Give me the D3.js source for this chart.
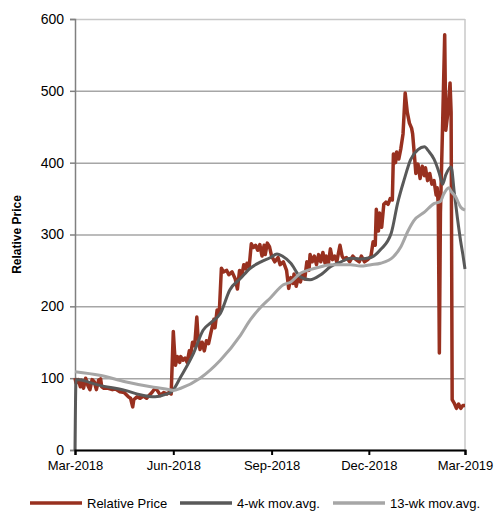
<!DOCTYPE html>
<html>
<head>
<meta charset="utf-8">
<script src="https://cdn.jsdelivr.net/npm/d3@7"></script>
<style>
  html, body { margin: 0; padding: 0; background: #fff; }
  svg { display: block; font-family: "Liberation Sans", Arial, sans-serif; }
</style>
</head>
<body>
<svg id="chart" width="496" height="512"></svg>
<script>
// ---- Data ----
const priceDates = ["2018-03-01","2018-03-02","2018-03-04","2018-03-06","2018-03-07","2018-03-09","2018-03-11","2018-03-13","2018-03-15","2018-03-17","2018-03-19","2018-03-21","2018-03-23","2018-03-25","2018-03-26","2018-03-28",
"2018-04-01","2018-04-05","2018-04-08","2018-04-12","2018-04-16","2018-04-20","2018-04-22","2018-04-24","2018-04-25","2018-04-28",
"2018-05-01","2018-05-04","2018-05-07","2018-05-10","2018-05-12","2018-05-15","2018-05-17","2018-05-20","2018-05-23","2018-05-26","2018-05-28","2018-05-30",
"2018-06-01","2018-06-02","2018-06-03","2018-06-05","2018-06-07","2018-06-08","2018-06-10","2018-06-12","2018-06-14","2018-06-16","2018-06-17","2018-06-19","2018-06-21","2018-06-23","2018-06-24","2018-06-26","2018-06-28","2018-06-30",
"2018-07-02","2018-07-04","2018-07-06","2018-07-08","2018-07-09","2018-07-10","2018-07-12","2018-07-14","2018-07-16","2018-07-18","2018-07-21","2018-07-23","2018-07-26","2018-07-29","2018-07-31",
"2018-08-02","2018-08-04","2018-08-06","2018-08-08","2018-08-09","2018-08-11","2018-08-13","2018-08-15","2018-08-17","2018-08-19","2018-08-21","2018-08-23","2018-08-25","2018-08-26","2018-08-28","2018-08-30",
"2018-09-01","2018-09-04","2018-09-07","2018-09-09","2018-09-12","2018-09-15","2018-09-17","2018-09-19","2018-09-21","2018-09-22","2018-09-24","2018-09-26","2018-09-28","2018-09-30",
"2018-10-02","2018-10-04","2018-10-06","2018-10-07","2018-10-09","2018-10-11","2018-10-13","2018-10-15","2018-10-17","2018-10-19","2018-10-21","2018-10-22","2018-10-24","2018-10-26","2018-10-28","2018-10-30",
"2018-11-01","2018-11-04","2018-11-06","2018-11-08","2018-11-10","2018-11-13","2018-11-16","2018-11-19","2018-11-22","2018-11-24","2018-11-27","2018-11-30",
"2018-12-03","2018-12-05","2018-12-07","2018-12-08","2018-12-10","2018-12-11","2018-12-13","2018-12-15","2018-12-17","2018-12-19","2018-12-21","2018-12-23","2018-12-24","2018-12-26","2018-12-27","2018-12-29","2018-12-31",
"2019-01-02","2019-01-04","2019-01-06","2019-01-08","2019-01-10","2019-01-11","2019-01-13","2019-01-14","2019-01-16","2019-01-18","2019-01-20","2019-01-22","2019-01-23","2019-01-25","2019-01-27","2019-01-29","2019-01-31",
"2019-02-02","2019-02-03","2019-02-04","2019-02-05","2019-02-06","2019-02-08","2019-02-10","2019-02-11","2019-02-13","2019-02-15","2019-02-16","2019-02-17","2019-02-19","2019-02-21","2019-02-23","2019-02-25","2019-02-27","2019-03-01"];
const priceValues = [100,93,98,88,97,86,100,90,84,98,95,84,97,99,88,86,
86,84,85,81,80,74,72,60,70,74,
72,75,72,77,80,86,83,76,80,78,80,78,
165,140,118,130,122,130,125,128,122,138,130,150,145,185,160,140,150,138,
152,148,162,175,182,170,195,190,253,248,250,244,248,238,224,
250,242,258,252,260,255,287,282,285,278,286,270,285,272,288,283,
270,262,268,258,262,250,225,240,232,245,228,240,234,246,
238,262,250,272,262,270,258,272,262,275,260,270,258,280,265,270,
262,285,270,265,268,262,270,265,262,270,262,265,
270,290,285,335,305,330,310,342,345,342,350,348,412,400,415,405,420,
440,497,470,455,448,440,404,385,398,378,395,382,393,375,385,370,375,
355,365,340,135,330,450,578,445,470,511,470,70,65,58,64,58,62,62];

const ma4Dates = ["2018-03-01","2018-03-02","2018-03-24","2018-04-17","2018-05-01","2018-05-15","2018-05-24","2018-05-31","2018-06-08","2018-06-20","2018-06-29","2018-07-06","2018-07-15","2018-07-24","2018-08-03","2018-08-12","2018-08-22","2018-08-31","2018-09-06","2018-09-11","2018-09-19","2018-09-28","2018-10-07","2018-10-17","2018-10-26","2018-11-05","2018-11-14","2018-11-23","2018-12-03","2018-12-12","2018-12-22","2018-12-28","2019-01-03","2019-01-09","2019-01-16","2019-01-22","2019-01-26","2019-01-31","2019-02-05","2019-02-08","2019-02-11","2019-02-16","2019-02-19","2019-02-22","2019-02-25","2019-02-27","2019-03-01"];
const ma4Values = [0,98,90,83,77,74,77,82,102,135,167,177,190,223,239,253,262,268,273,270,260,241,237,244,255,262,267,266,268,279,302,344,376,404,418,422,416,405,385,370,383,394,358,322,290,272,252];

const ma13Dates = ["2018-03-01","2018-03-24","2018-04-17","2018-05-11","2018-05-25","2018-06-01","2018-06-08","2018-06-26","2018-07-15","2018-08-03","2018-08-12","2018-08-22","2018-08-31","2018-09-12","2018-09-19","2018-09-28","2018-10-07","2018-10-17","2018-10-26","2018-11-14","2018-11-23","2018-12-03","2018-12-12","2018-12-24","2018-12-31","2019-01-07","2019-01-12","2019-01-22","2019-01-31","2019-02-06","2019-02-09","2019-02-14","2019-02-16","2019-02-20","2019-02-25","2019-03-01"];
const ma13Values = [109,104,95,88,85,83,86,100,125,160,181,199,212,230,234,246,251,255,258,258,256,258,260,269,283,306,319,331,343,346,356,365,360,353,338,334];

const yTicks = [0,100,200,300,400,500,600];
const xTickDates = ["2018-03-01","2018-06-01","2018-09-01","2018-12-01","2019-03-01"];
const seriesNames = ["Relative Price","4-wk mov.avg.","13-wk mov.avg."];
const seriesColors = ["#98301F","#595959","#A6A6A6"];

// ---- Chart ----
const parse = d3.timeParse("%Y-%m-%d");
const svg = d3.select("#chart");
const margin = {left: 75, right: 31, top: 19, bottom: 62};
const W = 496, H = 512;
const iw = W - margin.left - margin.right;
const ih = H - margin.top - margin.bottom;

const x = d3.scaleTime()
  .domain([parse(xTickDates[0]), parse(xTickDates[xTickDates.length - 1])])
  .range([0, iw]);
const y = d3.scaleLinear().domain([0, 600]).range([ih, 0]);

const g = svg.append("g").attr("transform", `translate(${margin.left},${margin.top})`);

// gridlines
const grid = g.append("g").call(d3.axisLeft(y).tickValues(yTicks).tickSize(-iw).tickFormat(""));
grid.select(".domain").remove();
grid.selectAll("line").attr("stroke", d => d === 600 ? "#C8C8C8" : "#A6A6A6").attr("stroke-width", 1.5);

// right border
g.append("line").attr("x1", iw).attr("x2", iw).attr("y1", 0).attr("y2", ih)
  .attr("stroke", "#C8C8C8").attr("stroke-width", 1.5);

// y axis
const yAx = g.append("g").call(d3.axisLeft(y).tickValues(yTicks).tickSize(5).tickPadding(6));
yAx.select(".domain").attr("stroke", "#808080").attr("stroke-width", 1.5);
yAx.selectAll(".tick line").attr("stroke", "#808080").attr("stroke-width", 1.5);
yAx.selectAll("text").attr("font-size", 14).attr("fill", "#000")
  .attr("font-family", "'Liberation Sans', Arial, sans-serif");

// series
const mkSeries = (dates, vals) => dates.map((d, i) => ({date: parse(d), v: vals[i]}));
const series = [
  mkSeries(priceDates, priceValues),
  mkSeries(ma4Dates, ma4Values),
  mkSeries(ma13Dates, ma13Values)
];
const widths = [3.5, 3, 3];
const curves = [d3.curveLinear, d3.curveMonotoneX, d3.curveMonotoneX];
series.forEach((s, i) => {
  const line = d3.line().x(d => x(d.date)).y(d => y(d.v)).curve(curves[i]);
  g.append("path").datum(s).attr("d", line)
    .attr("fill", "none").attr("stroke", seriesColors[i])
    .attr("stroke-width", widths[i]).attr("stroke-linejoin", "round");
});

// x axis
const xAx = g.append("g").attr("transform", `translate(0,${ih})`)
  .call(d3.axisBottom(x).tickValues(xTickDates.map(parse)).tickSize(5).tickPadding(6)
    .tickFormat(d3.timeFormat("%b-%Y")));
xAx.select(".domain").attr("stroke", "#000").attr("stroke-width", 2);
xAx.selectAll(".tick line").attr("stroke", "#000").attr("stroke-width", 2);
xAx.selectAll("text").attr("font-size", 13).attr("fill", "#000")
  .attr("font-family", "'Liberation Sans', Arial, sans-serif");

// y label
svg.append("text")
  .attr("transform", `translate(21,${margin.top + ih / 2}) rotate(-90)`)
  .attr("text-anchor", "middle")
  .attr("font-size", 12).attr("font-weight", "bold").attr("fill", "#000")
  .text("Relative Price");

// legend
const legX = [30, 180, 333];
const leg = svg.append("g").attr("transform", `translate(0,503)`);
seriesNames.forEach((n, i) => {
  leg.append("line").attr("x1", legX[i]).attr("x2", legX[i] + 52).attr("y1", 0).attr("y2", 0)
    .attr("stroke", seriesColors[i]).attr("stroke-width", 3.5);
  leg.append("text").attr("x", legX[i] + 57).attr("y", 5).attr("font-size", 13).attr("fill", "#000")
    .text(n);
});
</script>
</body>
</html>
